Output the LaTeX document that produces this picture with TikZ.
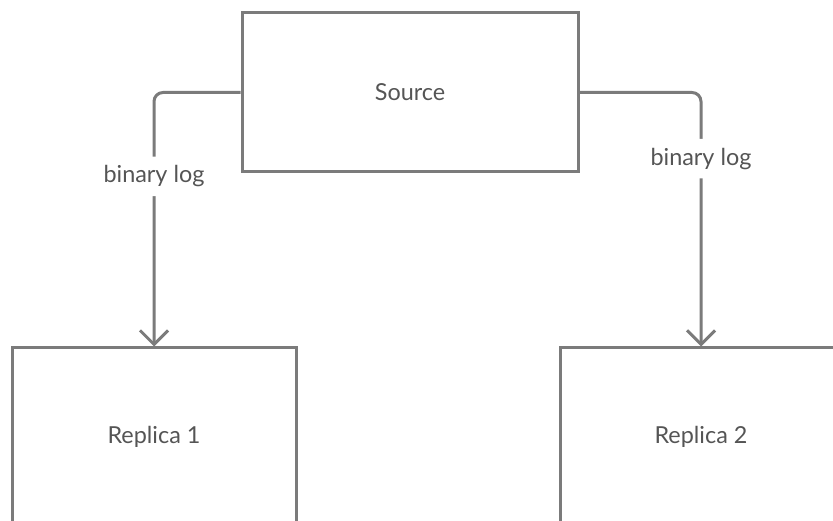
\documentclass[tikz,border=0pt]{standalone}
\usepackage{fontspec}
\setmainfont{Lato}
\usetikzlibrary{arrows.meta}
\definecolor{edgegray}{HTML}{7B7B7B}
\definecolor{textgray}{HTML}{555555}
\begin{document}
\begin{tikzpicture}[x=1pt,y=-1pt,
  box/.style={draw=edgegray, line width=3pt, rectangle, inner sep=0pt,
    text=textgray, font=\fontsize{23.4}{28}\selectfont},
  conn/.style={draw=edgegray, line width=3pt, rounded corners=9pt,
    -{Straight Barb[length=14pt,width=28pt,line width=3pt]}},
  lbl/.style={fill=white, text=textgray, inner xsep=3pt, inner ysep=9pt,
    font=\fontsize{23.4}{28}\selectfont}]
\useasboundingbox (0,0) rectangle (833,521);
\clip (0,0) rectangle (833,521);
\node[box, minimum width=336pt, minimum height=159pt] (src) at (410,92.5) {\raisebox{-2pt}{Source}};
\node[box, minimum width=284pt, minimum height=178pt] (r1) at (154,437) {\raisebox{-2pt}{Replica 1}};
\node[box, minimum width=282pt, minimum height=178pt] (r2) at (701,437) {\raisebox{-2pt}{Replica 2}};
\draw[conn] (src.west) -| node[lbl, pos=0.665] (l1) {binary log} (r1.north);
\draw[conn] (src.east) -| node[lbl, pos=0.63] (l2) {binary log} (r2.north);
\end{tikzpicture}
\end{document}
